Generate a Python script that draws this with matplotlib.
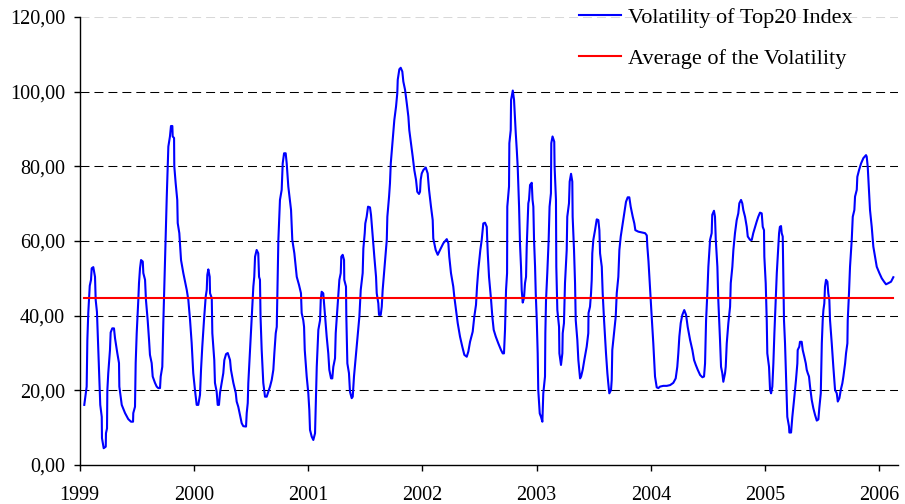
import matplotlib
matplotlib.use("Agg")
import matplotlib.pyplot as plt
import numpy as np
from matplotlib.ticker import FuncFormatter

# time in years since 1 Jan 1999, volatility values
t_offset = [
    0.040, 0.061, 0.067, 0.075, 0.088, 0.099, 0.105, 0.119, 0.134, 0.140, 0.151, 0.163, 0.180, 0.193, 0.195,
    0.210, 0.228, 0.230, 0.239, 0.242, 0.250, 0.265, 0.271, 0.285, 0.300, 0.309, 0.329, 0.344, 0.347, 0.368,
    0.397, 0.425, 0.449, 0.467, 0.469, 0.484, 0.490, 0.499, 0.513, 0.519, 0.528, 0.537, 0.552, 0.557, 0.572,
    0.580, 0.595, 0.607, 0.615, 0.630, 0.639, 0.659, 0.674, 0.688, 0.703, 0.709, 0.723, 0.732, 0.747, 0.762,
    0.776, 0.790, 0.799, 0.811, 0.814, 0.826, 0.828, 0.840, 0.854, 0.858, 0.872, 0.887, 0.907, 0.937, 0.951,
    0.966, 0.980, 0.994, 1.009, 1.024, 1.038, 1.053, 1.062, 1.073, 1.088, 1.103, 1.112, 1.117, 1.126, 1.138,
    1.141, 1.156, 1.161, 1.178, 1.184, 1.199, 1.208, 1.219, 1.228, 1.243, 1.257, 1.266, 1.281, 1.296, 1.316,
    1.324, 1.345, 1.366, 1.374, 1.388, 1.403, 1.418, 1.432, 1.456, 1.462, 1.471, 1.476, 1.491, 1.506, 1.520,
    1.528, 1.535, 1.549, 1.563, 1.570, 1.578, 1.583, 1.593, 1.607, 1.622, 1.637, 1.651, 1.666, 1.681, 1.695,
    1.704, 1.716, 1.725, 1.739, 1.753, 1.768, 1.777, 1.789, 1.803, 1.812, 1.826, 1.850, 1.861, 1.879, 1.900,
    1.920, 1.937, 1.943, 1.957, 1.964, 1.970, 1.987, 2.001, 2.010, 2.016, 2.031, 2.045, 2.060, 2.066, 2.075,
    2.089, 2.104, 2.110, 2.118, 2.132, 2.139, 2.150, 2.162, 2.176, 2.185, 2.200, 2.211, 2.220, 2.235, 2.241,
    2.255, 2.273, 2.285, 2.290, 2.302, 2.314, 2.316, 2.331, 2.334, 2.343, 2.357, 2.366, 2.381, 2.390, 2.401,
    2.419, 2.434, 2.448, 2.460, 2.477, 2.483, 2.495, 2.500, 2.512, 2.524, 2.541, 2.550, 2.565, 2.579, 2.594,
    2.600, 2.614, 2.620, 2.635, 2.644, 2.652, 2.664, 2.673, 2.688, 2.693, 2.708, 2.716, 2.723, 2.740, 2.754,
    2.769, 2.780, 2.784, 2.798, 2.810, 2.824, 2.833, 2.848, 2.863, 2.877, 2.885, 2.900, 2.915, 2.929, 2.944,
    2.955, 2.970, 2.979, 2.985, 2.994, 3.008, 3.029, 3.046, 3.058, 3.075, 3.090, 3.095, 3.116, 3.134, 3.154,
    3.183, 3.213, 3.227, 3.235, 3.250, 3.270, 3.279, 3.294, 3.309, 3.329, 3.349, 3.367, 3.388, 3.402, 3.417,
    3.440, 3.454, 3.469, 3.478, 3.489, 3.507, 3.519, 3.533, 3.548, 3.563, 3.572, 3.583, 3.601, 3.612, 3.624,
    3.642, 3.664, 3.688, 3.703, 3.714, 3.723, 3.732, 3.741, 3.743, 3.758, 3.761, 3.773, 3.776, 3.791, 3.802,
    3.817, 3.826, 3.834, 3.846, 3.854, 3.863, 3.869, 3.878, 3.889, 3.898, 3.907, 3.913, 3.927, 3.933, 3.942,
    3.957, 3.964, 3.971, 3.977, 3.986, 3.992, 4.001, 4.009, 4.014, 4.027, 4.038, 4.050, 4.058, 4.073, 4.076,
    4.082, 4.093, 4.105, 4.113, 4.125, 4.128, 4.139, 4.154, 4.157, 4.169, 4.172, 4.181, 4.196, 4.199, 4.213,
    4.225, 4.228, 4.239, 4.248, 4.263, 4.268, 4.283, 4.289, 4.301, 4.312, 4.315, 4.327, 4.336, 4.342, 4.356,
    4.365, 4.380, 4.389, 4.403, 4.417, 4.438, 4.452, 4.454, 4.467, 4.476, 4.482, 4.487, 4.496, 4.511, 4.526,
    4.540, 4.549, 4.555, 4.570, 4.578, 4.590, 4.607, 4.619, 4.627, 4.636, 4.651, 4.657, 4.662, 4.677, 4.692,
    4.701, 4.715, 4.724, 4.736, 4.753, 4.767, 4.782, 4.797, 4.811, 4.823, 4.841, 4.855, 4.864, 4.890, 4.920,
    4.949, 4.964, 4.969, 4.979, 4.993, 5.007, 5.021, 5.036, 5.051, 5.065, 5.080, 5.109, 5.139, 5.168, 5.196,
    5.217, 5.231, 5.240, 5.249, 5.261, 5.275, 5.292, 5.308, 5.322, 5.343, 5.363, 5.378, 5.393, 5.410, 5.431,
    5.451, 5.465, 5.474, 5.483, 5.494, 5.503, 5.518, 5.532, 5.537, 5.552, 5.561, 5.568, 5.582, 5.590, 5.605,
    5.614, 5.625, 5.634, 5.649, 5.655, 5.664, 5.678, 5.693, 5.699, 5.713, 5.722, 5.736, 5.751, 5.765, 5.774,
    5.789, 5.800, 5.809, 5.824, 5.839, 5.848, 5.868, 5.883, 5.896, 5.912, 5.926, 5.940, 5.955, 5.970, 5.979,
    5.990, 5.993, 6.005, 6.014, 6.019, 6.034, 6.043, 6.052, 6.063, 6.072, 6.081, 6.093, 6.102, 6.115, 6.122,
    6.129, 6.139, 6.145, 6.154, 6.159, 6.165, 6.174, 6.183, 6.194, 6.209, 6.212, 6.227, 6.238, 6.253, 6.270,
    6.282, 6.285, 6.299, 6.305, 6.320, 6.329, 6.343, 6.356, 6.364, 6.373, 6.384, 6.393, 6.408, 6.422, 6.437,
    6.452, 6.466, 6.474, 6.487, 6.496, 6.504, 6.510, 6.518, 6.524, 6.533, 6.545, 6.553, 6.562, 6.568, 6.583,
    6.597, 6.612, 6.627, 6.636, 6.650, 6.662, 6.676, 6.685, 6.700, 6.708, 6.720, 6.723, 6.734, 6.743, 6.758,
    6.767, 6.781, 6.787, 6.802, 6.807, 6.822, 6.840, 6.860, 6.883, 6.889, 6.898, 6.910, 6.918, 6.933, 6.947,
    6.962, 6.977, 7.000, 7.021, 7.041, 7.058, 7.078, 7.102, 7.122,
]

volatility = [
    16.1, 21.0, 33.5, 40.7, 48.0, 49.6, 52.7, 53.0, 50.4, 44.2, 41.0, 30.8, 16.1, 12.9, 7.2,
    4.5, 4.9, 8.5, 9.8, 20.0, 24.6, 30.8, 35.5, 36.6, 36.6, 34.0, 30.0, 27.3, 21.0, 16.1,
    13.9, 12.3, 11.6, 11.6, 13.9, 15.6, 27.3, 35.3, 44.2, 48.7, 52.7, 54.9, 54.5, 51.4, 49.6,
    44.2, 38.8, 33.5, 29.5, 27.3, 23.7, 22.0, 21.0, 20.6, 20.6, 23.7, 26.3, 38.0, 54.9, 71.8,
    85.3, 88.0, 90.8, 90.8, 88.0, 87.6, 80.0, 75.5, 71.0, 64.8, 62.1, 54.9, 51.4, 46.9, 44.2,
    38.8, 32.7, 24.6, 20.1, 16.1, 16.1, 18.8, 25.5, 31.7, 38.8, 45.1, 46.9, 50.9, 52.4, 50.4,
    46.0, 44.7, 35.3, 28.1, 22.0, 19.6, 16.1, 16.1, 19.3, 22.0, 24.6, 28.1, 29.7, 30.0, 28.1,
    25.5, 22.0, 19.3, 17.0, 15.6, 13.4, 11.2, 10.4, 10.3, 13.9, 16.6, 22.0, 30.8, 39.7, 47.8,
    50.4, 55.8, 57.6, 56.7, 50.4, 49.6, 39.7, 30.8, 22.0, 18.3, 18.3, 19.6, 21.0, 22.8, 25.5,
    30.0, 35.3, 37.0, 60.3, 71.0, 73.7, 80.8, 83.5, 83.5, 80.8, 74.6, 68.3, 60.3, 56.7, 50.4,
    48.2, 46.0, 40.7, 38.8, 37.0, 30.8, 23.7, 19.3, 14.7, 9.4, 7.6, 6.7, 8.5, 15.2, 26.3,
    36.2, 38.8, 44.2, 46.4, 46.0, 43.3, 38.8, 34.4, 29.9, 25.5, 23.2, 23.2, 26.3, 28.6, 35.3,
    41.5, 49.6, 51.4, 55.8, 56.3, 54.9, 49.6, 47.8, 39.7, 27.2, 24.6, 19.6, 17.9, 18.3, 23.7,
    29.9, 35.3, 39.7, 46.9, 51.4, 58.0, 62.1, 64.7, 66.5, 69.2, 69.0, 67.0, 61.2, 55.8, 50.4,
    46.0, 43.3, 40.2, 40.2, 42.4, 46.9, 51.4, 54.9, 60.3, 66.5, 71.9, 75.5, 80.8, 87.1, 92.4,
    96.0, 99.6, 103.2, 106.0, 106.4, 105.4, 102.7, 100.5, 96.9, 93.3, 89.7, 86.2, 82.6, 79.0, 76.4,
    73.2, 72.6, 73.2, 76.4, 78.1, 79.0, 79.7, 78.1, 73.7, 69.2, 65.6, 60.7, 57.6, 56.3, 57.6,
    59.4, 60.5, 59.4, 55.8, 51.4, 47.8, 45.1, 41.5, 38.0, 34.4, 31.7, 29.5, 29.0, 30.4, 33.0,
    35.7, 39.7, 42.9, 47.8, 52.2, 57.6, 60.3, 64.7, 64.9, 63.8, 56.7, 50.4, 44.2, 39.7, 36.2,
    34.4, 32.6, 30.8, 29.9, 29.9, 36.2, 46.9, 51.4, 69.2, 74.6, 86.2, 89.7, 97.8, 100.3, 97.8,
    88.9, 84.4, 79.9, 69.2, 59.4, 53.1, 46.9, 43.5, 44.7, 48.7, 50.4, 58.5, 70.1, 71.0, 75.0,
    75.6, 71.0, 69.2, 60.3, 53.1, 46.0, 38.8, 29.9, 20.1, 13.8, 12.9, 11.6, 19.2, 23.7, 35.3,
    44.2, 51.4, 60.3, 69.2, 72.8, 86.2, 88.0, 86.6, 79.9, 71.0, 53.1, 41.5, 37.0, 29.9, 26.8,
    29.9, 35.3, 38.0, 48.7, 57.6, 66.5, 70.1, 75.9, 78.0, 75.9, 66.5, 57.6, 48.7, 38.8, 33.5,
    28.1, 23.2, 23.7, 25.5, 28.1, 31.7, 35.3, 40.7, 42.4, 46.0, 49.6, 56.7, 60.3, 62.9, 65.8,
    65.6, 62.9, 56.7, 53.1, 46.0, 38.8, 29.9, 24.6, 21.9, 19.2, 20.1, 22.8, 30.8, 35.3, 39.7,
    46.0, 50.4, 57.6, 61.2, 64.7, 67.4, 70.5, 71.7, 71.7, 69.2, 66.5, 64.7, 62.9, 62.5, 62.3,
    62.1, 61.5, 58.5, 54.5, 46.9, 39.7, 32.6, 23.7, 20.8, 20.6, 21.0, 21.2, 21.2, 21.4, 22.0,
    23.2, 26.3, 29.9, 34.4, 38.0, 40.2, 41.5, 40.2, 37.0, 33.5, 30.8, 28.1, 26.8, 25.5, 24.1,
    23.5, 23.7, 27.2, 38.8, 46.0, 53.1, 60.3, 62.1, 67.0, 68.1, 66.5, 60.3, 53.1, 44.2, 33.5,
    26.3, 24.6, 22.3, 24.6, 26.3, 32.6, 38.0, 42.4, 48.7, 53.1, 57.6, 62.1, 65.6, 67.4, 70.1,
    71.0, 70.1, 68.3, 66.5, 63.8, 61.2, 60.3, 60.3, 62.1, 63.8, 65.2, 66.5, 67.6, 67.4, 63.8,
    62.9, 55.8, 48.7, 38.8, 29.9, 26.3, 20.1, 19.2, 21.0, 27.2, 35.3, 44.2, 51.4, 58.5, 62.1,
    63.8, 64.0, 62.1, 61.2, 51.4, 38.8, 32.6, 23.7, 12.9, 10.3, 8.7, 8.7, 12.9, 17.4, 22.8,
    27.2, 30.8, 31.7, 33.0, 33.0, 30.8, 29.0, 27.2, 25.5, 24.6, 23.7, 21.0, 17.4, 15.2, 13.4,
    11.9, 12.2, 15.2, 19.2, 32.6, 38.8, 41.5, 43.3, 47.8, 49.6, 49.1, 46.0, 44.2, 38.8, 32.6,
    26.3, 20.1, 19.2, 17.0, 17.9, 20.1, 21.9, 23.7, 27.2, 29.9, 32.6, 38.8, 46.0, 53.1, 60.3,
    66.5, 68.3, 71.9, 73.7, 77.2, 79.0, 80.8, 82.2, 83.0, 82.6, 79.9, 72.8, 68.3, 63.8, 58.5,
    55.8, 53.1, 51.4, 50.0, 49.1, 48.4, 48.7, 49.1, 50.3,
]

average_volatility = 44.7
series_labels = ["Volatility of Top20 Index", "Average of the Volatility"]
year_ticks = [1999, 2000, 2001, 2002, 2003, 2004, 2005, 2006]
y_ticks = [0, 20, 40, 60, 80, 100, 120]

plt.rcParams['font.family'] = ['Liberation Serif', 'DejaVu Serif']

W, H = 905, 504
fig = plt.figure(figsize=(W / 100, H / 100), dpi=100)
ax = fig.add_axes([79.7 / W, 1 - 465 / H, (898 - 79.7) / W, (465 - 17) / H])

x = 1999 + np.array(t_offset)
y = np.array(volatility)

# gridlines
for v in y_ticks[1:-1]:
    ax.axhline(v, color='black', lw=0.75, linestyle=(0, (8.6, 4.8)), zorder=1)
ax.axhline(y_ticks[-1], color='#d8d8d8', lw=0.75, linestyle=(0, (8.6, 4.8)), zorder=1)

ax.plot(x, y, color='#0000ff', lw=1.5, label=series_labels[0], zorder=3)
ax.plot([x[0], x[-1]], [average_volatility, average_volatility], color='#ff0000', lw=1.5,
        label=series_labels[1], zorder=4)

ax.set_xlim(1999, 2006.163)
ax.set_ylim(0, 120)
ax.set_xticks(year_ticks)
ax.set_xticklabels([str(v) for v in year_ticks])
ax.set_yticks(y_ticks)
ax.yaxis.set_major_formatter(FuncFormatter(lambda v, p: f"{v:.2f}".replace('.', ',')))

for s in ['top', 'right']:
    ax.spines[s].set_visible(False)
for s in ['left', 'bottom']:
    ax.spines[s].set_linewidth(1.0)
    ax.spines[s].set_color('black')

ax.tick_params(axis='both', direction='out', length=4, width=1.0, labelsize=14.5, colors='black')
ax.tick_params(axis='y', pad=6.5)
ax.tick_params(axis='x', pad=11)

leg = fig.legend(loc='upper left', bbox_to_anchor=(579 / W, 1 - 7.5 / H), frameon=False,
                 fontsize=16, handlelength=1.89, handletextpad=0.3, labelspacing=0.93,
                 borderpad=0, borderaxespad=0)

fig.savefig('out.png', dpi=100)
